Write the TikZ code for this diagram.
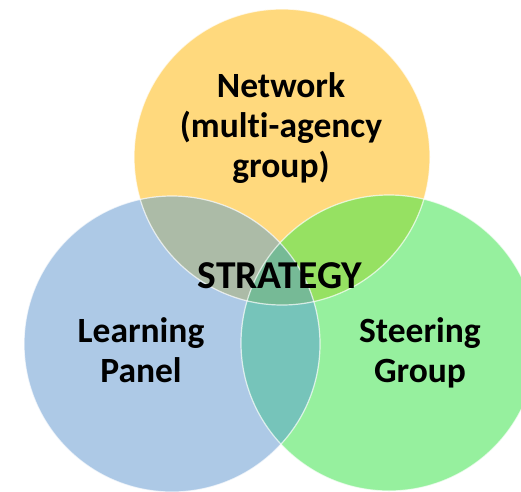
\documentclass[tikz,border=0pt]{standalone}
\usepackage{fontspec}
\setmainfont{Carlito}[Ligatures=NoCommon]
\begin{document}
\begin{tikzpicture}[x=1pt,y=-1pt,
  lbl/.style={font=\fontsize{35.5}{40}\selectfont\bfseries, align=center, inner sep=0pt, text=black},
  edge/.style={draw=white, draw opacity=0.7, line width=1.2pt}]
  % region colours
  \definecolor{netfill}{RGB}{255,217,125}
  \definecolor{lrnfill}{RGB}{173,201,230}
  \definecolor{strfill}{RGB}{150,240,158}
  \definecolor{netlrn}{RGB}{172,187,167}
  \definecolor{netstr}{RGB}{150,225,98}
  \definecolor{lrnstr}{RGB}{118,196,186}
  \definecolor{allthree}{RGB}{118,186,150}

  \useasboundingbox (0,0) rectangle (521,491);
  \clip (0,0) rectangle (521,491);

  \coordinate (cN) at (282,157);
  \coordinate (cL) at (172,344);
  \coordinate (cS) at (389,343);

  % single circles
  \fill[netfill] (cN) circle[radius=148pt];
  \fill[lrnfill] (cL) circle[radius=148pt];
  \fill[strfill] (cS) circle[radius=148pt];

  % pairwise overlaps
  \begin{scope}
    \clip (cN) circle[radius=148pt];
    \fill[netlrn] (cL) circle[radius=148pt];
    \fill[netstr] (cS) circle[radius=148pt];
  \end{scope}
  \begin{scope}
    \clip (cL) circle[radius=148pt];
    \fill[lrnstr] (cS) circle[radius=148pt];
  \end{scope}
  % triple overlap
  \begin{scope}
    \clip (cN) circle[radius=148pt];
    \clip (cL) circle[radius=148pt];
    \fill[allthree] (cS) circle[radius=148pt];
  \end{scope}

  % thin white rims
  \path[edge] (cN) circle[radius=148pt];
  \path[edge] (cL) circle[radius=148pt];
  \path[edge] (cS) circle[radius=148pt];

  % labels (base anchor sits on the last line)
  \node[lbl, anchor=base] (net) at (281,177) {Network\\(multi-agency\\group)};
  \node[lbl, anchor=base, font=\fontsize{39.5}{40}\selectfont\bfseries] (strat) at (280,288) {STRATEGY};
  \node[lbl, anchor=base] (lrn) at (141,382) {Learning\\Panel};
  \node[lbl, anchor=base] (steer) at (420,382) {Steering\\Group};
\end{tikzpicture}
\end{document}
